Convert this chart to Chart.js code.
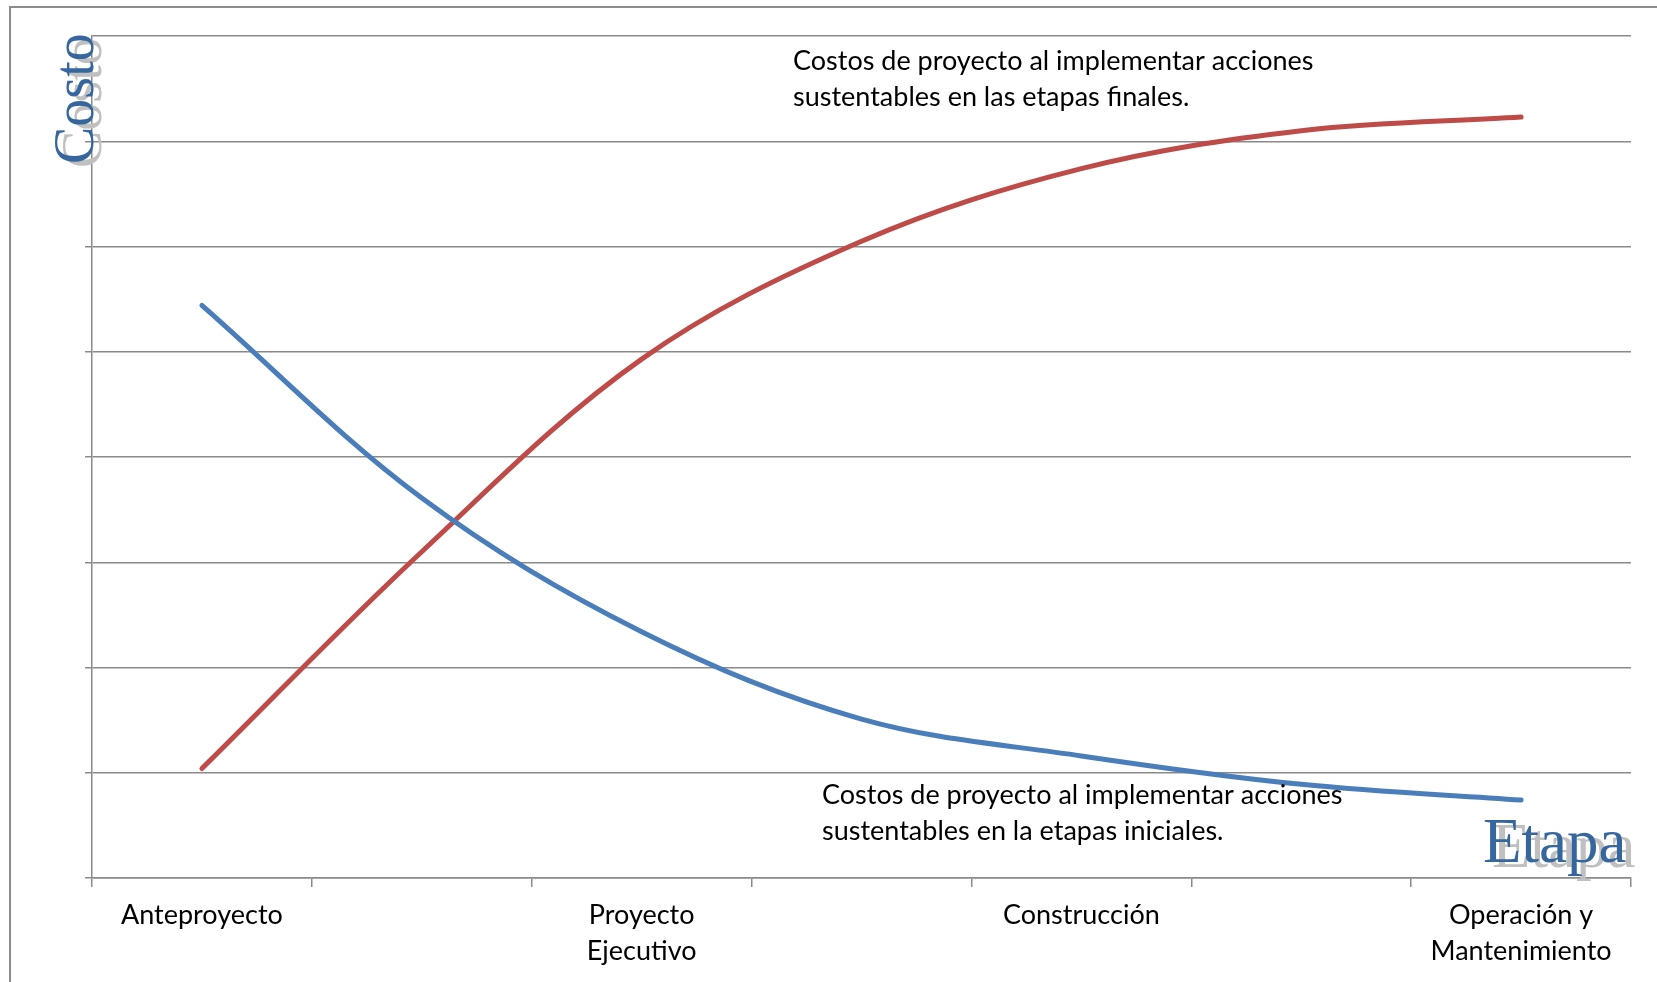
<!DOCTYPE html>
<html>
<head>
<meta charset="utf-8">
<script src="https://cdn.jsdelivr.net/npm/chart.js@4.4.0/dist/chart.umd.min.js"></script>
<style>
body { margin: 0; background: #fff; }
#wrap { position: relative; width: 1657px; height: 982px; }
</style>
</head>
<body>
<div id="wrap"><canvas id="costChart"></canvas></div>
<script>
// etapas del proyecto (las vacias solo marcan divisiones del eje)
var etapas = ['Anteproyecto', '', ['Proyecto', 'Ejecutivo'], '', 'Construcción', '', ['Operación y', 'Mantenimiento']];
var costoIniciales = [5.44, 3.61, 2.34, 1.51, 1.16, 0.89, 0.74];
var costoFinales = [1.04, 3.10, 4.93, 6.05, 6.74, 7.10, 7.23];
var costoMin = 0;
var costoMax = 8;

var notaFinales = ['Costos de proyecto al implementar acciones', 'sustentables en las etapas finales.'];
var notaIniciales = ['Costos de proyecto al implementar acciones', 'sustentables en la etapas iniciales.'];

var textos = {
    id: 'textos',
    beforeDraw: function (chart) {
        var ctx = chart.ctx;
        ctx.save();
        ctx.strokeStyle = '#8c8c8c';
        ctx.lineWidth = 2;
        ctx.beginPath();
        ctx.moveTo(10, 990);
        ctx.lineTo(10, 7);
        ctx.lineTo(1670, 7);
        ctx.stroke();
        ctx.restore();
    },
    afterDraw: function (chart) {
        var ctx = chart.ctx;
        ctx.save();
        // notas
        ctx.fillStyle = '#000';
        ctx.font = '27px Lato';
        ctx.textAlign = 'left';
        ctx.textBaseline = 'alphabetic';
        ctx.fillText(notaFinales[0], 793, 70);
        ctx.fillText(notaFinales[1], 793, 106);
        ctx.fillText(notaIniciales[0], 822, 804);
        ctx.fillText(notaIniciales[1], 822, 840);

        // titulos de ejes con sombra
        ctx.font = '63px "Liberation Serif"';
        ctx.fillStyle = '#c0c0c0';
        ctx.fillText('Etapa', 1492, 867);
        ctx.fillStyle = '#35679e';
        ctx.fillText('Etapa', 1483, 862);

        ctx.font = '56px "Liberation Serif"';
        ctx.translate(93, 164);
        ctx.rotate(-Math.PI / 2);
        ctx.fillStyle = '#c0c0c0';
        ctx.fillText('Costo', -4, 8);
        ctx.fillStyle = '#35679e';
        ctx.fillText('Costo', 0, 0);
        ctx.restore();
    }
};

var ctx = document.getElementById('costChart').getContext('2d');
var costChart = new Chart(ctx, {
    type: 'line',
    data: {
        labels: etapas,
        datasets: [{
            label: 'Acciones sustentables en etapas iniciales',
            data: costoIniciales,
            borderColor: '#4a7ebb',
            borderWidth: 5,
            borderCapStyle: 'round',
            pointRadius: 0,
            tension: 0.35
        }, {
            label: 'Acciones sustentables en etapas finales',
            data: costoFinales,
            borderColor: '#be4b48',
            borderWidth: 5,
            borderCapStyle: 'round',
            pointRadius: 0,
            tension: 0.35
        }]
    },
    options: {
        responsive: true,
        maintainAspectRatio: false,
        animation: false,
        layout: { padding: { left: 0, top: 36, right: 26, bottom: 0 } },
        plugins: {
            legend: { display: false },
            tooltip: { enabled: false }
        },
        scales: {
            x: {
                offset: true,
                grid: {
                    offset: true,
                    drawOnChartArea: false,
                    drawTicks: true,
                    tickLength: 9,
                    color: '#8a8a8a',
                    lineWidth: 1.5
                },
                border: { display: true, color: '#8a8a8a', width: 1.5 },
                ticks: {
                    autoSkip: false,
                    maxRotation: 0,
                    padding: 10,
                    color: '#000',
                    font: { family: 'Lato', size: 27, lineHeight: 1.333 }
                },
                afterFit: function (scale) { scale.height = 104; }
            },
            y: {
                min: costoMin,
                max: costoMax,
                ticks: { stepSize: 1, display: false },
                grid: {
                    color: '#8a8a8a',
                    lineWidth: 1.5,
                    drawTicks: true,
                    tickLength: 7,
                    tickColor: function (c) { return c.tick && c.tick.value === costoMax ? 'rgba(0,0,0,0)' : '#8a8a8a'; }
                },
                border: { display: true, color: '#8a8a8a', width: 1.5 },
                afterFit: function (scale) { scale.width = 92; }
            }
        }
    },
    plugins: [textos]
});
</script>
</body>
</html>
